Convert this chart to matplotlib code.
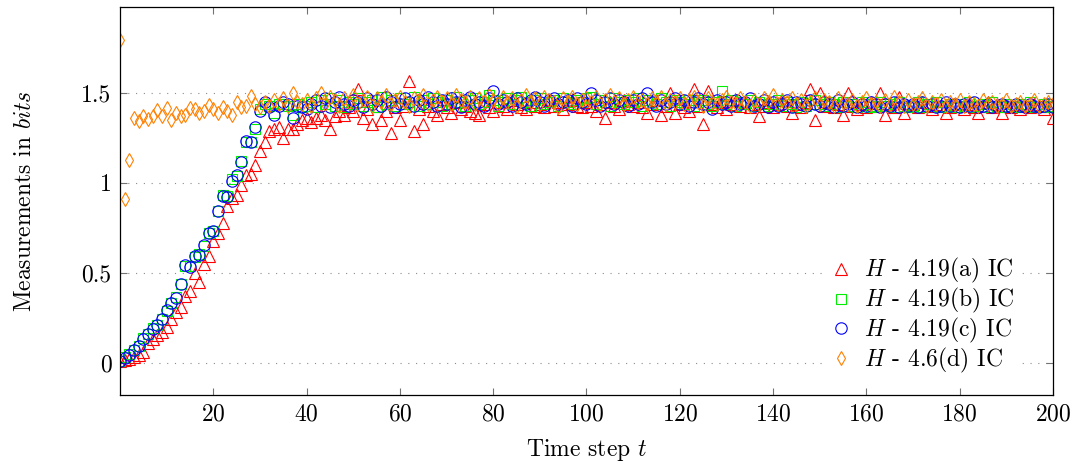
import matplotlib
matplotlib.use("Agg")
import matplotlib.pyplot as plt
from matplotlib import ticker
import numpy as np

plt.rcParams["font.family"] = "serif"
plt.rcParams["font.serif"] = ["cmr10", "DejaVu Serif"]
plt.rcParams["mathtext.fontset"] = "cm"
plt.rcParams["axes.formatter.use_mathtext"] = True
plt.rcParams["font.size"] = 17

# time steps 0..200
t = np.arange(0, 201)

# H - 4.19(a) IC
h_a = [
    0.01, 0.015, 0.02, 0.03, 0.045, 0.06, 0.11, 0.13, 0.155, 0.17,
    0.20, 0.24, 0.28, 0.31, 0.37, 0.40, 0.50, 0.45, 0.55, 0.595,
    0.675, 0.72, 0.775, 0.87, 0.915, 0.93, 0.99, 1.045, 1.05, 1.10,
    1.175, 1.23, 1.29, 1.30, 1.31, 1.25, 1.30, 1.30, 1.325, 1.35,
    1.36, 1.34, 1.36, 1.38, 1.35, 1.30, 1.37, 1.40, 1.38, 1.42,
    1.40, 1.52, 1.36, 1.41, 1.325, 1.43, 1.35, 1.40, 1.28, 1.42,
    1.35, 1.43, 1.565, 1.29, 1.41, 1.325, 1.43, 1.40, 1.38, 1.44,
    1.42, 1.39, 1.45, 1.41, 1.43, 1.40, 1.39, 1.38, 1.44, 1.42,
    1.40, 1.45, 1.43, 1.41, 1.46, 1.44, 1.42, 1.41, 1.45, 1.43,
    1.44, 1.42, 1.46, 1.43, 1.45, 1.41, 1.44, 1.46, 1.43, 1.42,
    1.45, 1.43, 1.40, 1.44, 1.36, 1.45, 1.43, 1.41, 1.46, 1.44,
    1.43, 1.45, 1.42, 1.39, 1.44, 1.46, 1.38, 1.43, 1.50, 1.39,
    1.44, 1.42, 1.40, 1.52, 1.43, 1.325, 1.51, 1.44, 1.42, 1.45,
    1.41, 1.44, 1.46, 1.43, 1.45, 1.42, 1.44, 1.37, 1.43, 1.45,
    1.42, 1.44, 1.46, 1.43, 1.39, 1.44, 1.42, 1.45, 1.52, 1.35,
    1.50, 1.43, 1.45, 1.42, 1.44, 1.38, 1.50, 1.43, 1.41, 1.44,
    1.42, 1.45, 1.43, 1.50, 1.38, 1.44, 1.42, 1.48, 1.39, 1.43,
    1.44, 1.42, 1.45, 1.43, 1.41, 1.44, 1.43, 1.39, 1.42, 1.44,
    1.43, 1.41, 1.44, 1.42, 1.39, 1.43, 1.45, 1.42, 1.44, 1.39,
    1.43, 1.42, 1.44, 1.41, 1.43, 1.42, 1.44, 1.43, 1.41, 1.43,
    1.36,
]

# H - 4.19(b) IC
h_b = [
    0.01, 0.03, 0.05, 0.07, 0.095, 0.135, 0.16, 0.19, 0.21, 0.245,
    0.29, 0.33, 0.365, 0.44, 0.54, 0.535, 0.59, 0.605, 0.65, 0.72,
    0.735, 0.845, 0.93, 0.925, 1.02, 1.04, 1.12, 1.23, 1.225, 1.30,
    1.41, 1.44, 1.43, 1.39, 1.44, 1.44, 1.43, 1.38, 1.44, 1.42,
    1.43, 1.45, 1.42, 1.46, 1.44, 1.47, 1.43, 1.46, 1.42, 1.45,
    1.44, 1.47, 1.43, 1.45, 1.46, 1.42, 1.48, 1.44, 1.46, 1.43,
    1.47, 1.44, 1.45, 1.48, 1.43, 1.46, 1.44, 1.47, 1.45, 1.43,
    1.46, 1.44, 1.48, 1.45, 1.43, 1.46, 1.47, 1.44, 1.45, 1.49,
    1.46, 1.43, 1.45, 1.47, 1.44, 1.46, 1.48, 1.45, 1.43, 1.46,
    1.47, 1.44, 1.45, 1.46, 1.43, 1.47, 1.45, 1.44, 1.46, 1.45,
    1.47, 1.48, 1.44, 1.46, 1.45, 1.43, 1.47, 1.45, 1.44, 1.46,
    1.45, 1.47, 1.43, 1.46, 1.45, 1.44, 1.47, 1.45, 1.43, 1.46,
    1.45, 1.44, 1.46, 1.43, 1.45, 1.46, 1.44, 1.43, 1.45, 1.51,
    1.44, 1.46, 1.43, 1.45, 1.44, 1.46, 1.43, 1.45, 1.44, 1.43,
    1.44, 1.46, 1.43, 1.45, 1.44, 1.42, 1.45, 1.43, 1.44, 1.46,
    1.44, 1.43, 1.45, 1.44, 1.42, 1.45, 1.43, 1.44, 1.42, 1.45,
    1.44, 1.42, 1.43, 1.45, 1.43, 1.44, 1.42, 1.45, 1.43, 1.42,
    1.43, 1.45, 1.42, 1.44, 1.43, 1.45, 1.42, 1.43, 1.44, 1.42,
    1.44, 1.43, 1.45, 1.42, 1.43, 1.44, 1.42, 1.45, 1.43, 1.42,
    1.44, 1.43, 1.42, 1.44, 1.43, 1.45, 1.42, 1.43, 1.44, 1.42,
    1.43,
]

# H - 4.19(c) IC
h_c = [
    0.01, 0.025, 0.045, 0.07, 0.09, 0.13, 0.16, 0.185, 0.21, 0.24,
    0.295, 0.33, 0.36, 0.44, 0.545, 0.53, 0.595, 0.60, 0.655, 0.72,
    0.73, 0.845, 0.925, 0.92, 1.01, 1.045, 1.115, 1.235, 1.23, 1.31,
    1.40, 1.45, 1.42, 1.38, 1.43, 1.45, 1.44, 1.36, 1.43, 1.42,
    1.41, 1.44, 1.46, 1.43, 1.47, 1.42, 1.45, 1.48, 1.44, 1.43,
    1.46, 1.45, 1.42, 1.47, 1.44, 1.46, 1.43, 1.48, 1.45, 1.42,
    1.44, 1.47, 1.45, 1.43, 1.46, 1.44, 1.48, 1.45, 1.43, 1.46,
    1.44, 1.47, 1.45, 1.42, 1.46, 1.48, 1.44, 1.45, 1.43, 1.47,
    1.51, 1.44, 1.46, 1.45, 1.43, 1.47, 1.45, 1.44, 1.46, 1.48,
    1.45, 1.43, 1.46, 1.47, 1.44, 1.45, 1.46, 1.43, 1.47, 1.45,
    1.44, 1.50, 1.46, 1.43, 1.45, 1.47, 1.44, 1.46, 1.45, 1.43,
    1.46, 1.44, 1.47, 1.50, 1.45, 1.43, 1.46, 1.44, 1.45, 1.47,
    1.44, 1.46, 1.43, 1.45, 1.47, 1.44, 1.45, 1.41, 1.46, 1.44,
    1.45, 1.43, 1.46, 1.44, 1.45, 1.47, 1.43, 1.44, 1.46, 1.42,
    1.45, 1.43, 1.44, 1.46, 1.42, 1.45, 1.44, 1.43, 1.46, 1.44,
    1.43, 1.45, 1.44, 1.42, 1.46, 1.43, 1.44, 1.45, 1.42, 1.44,
    1.43, 1.45, 1.44, 1.42, 1.44, 1.43, 1.45, 1.42, 1.44, 1.43,
    1.44, 1.42, 1.45, 1.43, 1.44, 1.42, 1.43, 1.45, 1.43, 1.44,
    1.42, 1.44, 1.43, 1.45, 1.42, 1.43, 1.44, 1.42, 1.43, 1.44,
    1.43, 1.42, 1.44, 1.43, 1.42, 1.44, 1.43, 1.42, 1.43, 1.44,
    1.42,
]

# H - 4.6(d) IC
h_d = [
    1.795, 0.91, 1.13, 1.36, 1.345, 1.37, 1.355, 1.37, 1.405, 1.37,
    1.415, 1.35, 1.39, 1.37, 1.38, 1.415, 1.41, 1.39, 1.40, 1.435,
    1.41, 1.39, 1.42, 1.40, 1.38, 1.45, 1.42, 1.43, 1.485, 1.44,
    1.42, 1.45, 1.43, 1.46, 1.44, 1.47, 1.43, 1.50, 1.45, 1.44,
    1.46, 1.43, 1.47, 1.50, 1.44, 1.48, 1.46, 1.43, 1.47, 1.45,
    1.49, 1.44, 1.46, 1.48, 1.43, 1.47, 1.45, 1.49, 1.44, 1.46,
    1.48, 1.45, 1.43, 1.47, 1.46, 1.49, 1.44, 1.46, 1.48, 1.45,
    1.47, 1.44, 1.49, 1.46, 1.45, 1.48, 1.44, 1.47, 1.45, 1.49,
    1.46, 1.44, 1.48, 1.45, 1.47, 1.43, 1.46, 1.49, 1.45, 1.47,
    1.44, 1.48, 1.46, 1.45, 1.42, 1.47, 1.45, 1.48, 1.44, 1.46,
    1.47, 1.45, 1.48, 1.44, 1.46, 1.49, 1.45, 1.47, 1.44, 1.46,
    1.48, 1.45, 1.46, 1.44, 1.47, 1.45, 1.48, 1.44, 1.46, 1.45,
    1.47, 1.44, 1.46, 1.48, 1.45, 1.43, 1.47, 1.45, 1.44, 1.46,
    1.48, 1.45, 1.44, 1.47, 1.45, 1.43, 1.46, 1.44, 1.47, 1.45,
    1.49, 1.44, 1.46, 1.45, 1.47, 1.44, 1.46, 1.43, 1.45, 1.47,
    1.44, 1.46, 1.45, 1.43, 1.47, 1.45, 1.44, 1.46, 1.43, 1.45,
    1.47, 1.44, 1.45, 1.43, 1.46, 1.44, 1.48, 1.45, 1.43, 1.46,
    1.44, 1.45, 1.47, 1.43, 1.45, 1.44, 1.46, 1.43, 1.45, 1.44,
    1.46, 1.43, 1.45, 1.44, 1.43, 1.46, 1.44, 1.45, 1.43, 1.44,
    1.46, 1.43, 1.44, 1.45, 1.43, 1.44, 1.46, 1.43, 1.44, 1.45,
    1.44,
]

labels = [r"$H$ - 4.19(a) IC", r"$H$ - 4.19(b) IC", r"$H$ - 4.19(c) IC", r"$H$ - 4.6(d) IC"]
series = [h_a, h_b, h_c, h_d]

# marker, colour, size
styles = [("^", "#ff0000", 8.5), ("s", "#00ee00", 7.8), ("o", "#0000ff", 8.2), ("d", "#ff8000", 7.6)]

fig = plt.figure(figsize=(10.77, 4.61), dpi=100)
ax = fig.add_axes([0.1114, 0.1432, 0.8663, 0.841])

for y, lab, (mk, col, ms) in zip(series, labels, styles):
    ax.plot(t, y, linestyle="none", marker=mk, markerfacecolor="none",
            markeredgecolor=col, markersize=ms, markeredgewidth=0.8, label=lab)

ax.set_xlim(0, 200)
ax.set_ylim(-0.18, 1.977)
ax.set_xticks(range(20, 201, 20))
ax.set_yticks([0, 0.5, 1, 1.5])
ax.yaxis.set_major_formatter(ticker.FormatStrFormatter("%g"))

ax.grid(axis="y", color="0.55", linestyle=(0, (1, 6)), linewidth=0.8)
ax.tick_params(direction="in", top=True, right=True, length=5, width=0.8,
               color="0.45", pad=6, labelsize=17)
for s in ax.spines.values():
    s.set_linewidth(0.9)

ax.set_xlabel(r"Time step $t$", fontsize=17, labelpad=8)
ax.set_ylabel(r"Measurements in $bits$", fontsize=17, labelpad=33)

ax.legend(loc="lower right", bbox_to_anchor=(0.962, 0.045), frameon=True,
          edgecolor="none", facecolor="white", framealpha=1, fancybox=False,
          handlelength=1.0, handletextpad=0.5, labelspacing=0.035,
          borderpad=0.1, borderaxespad=0, fontsize=17)

fig.savefig("out.png", dpi=100)
